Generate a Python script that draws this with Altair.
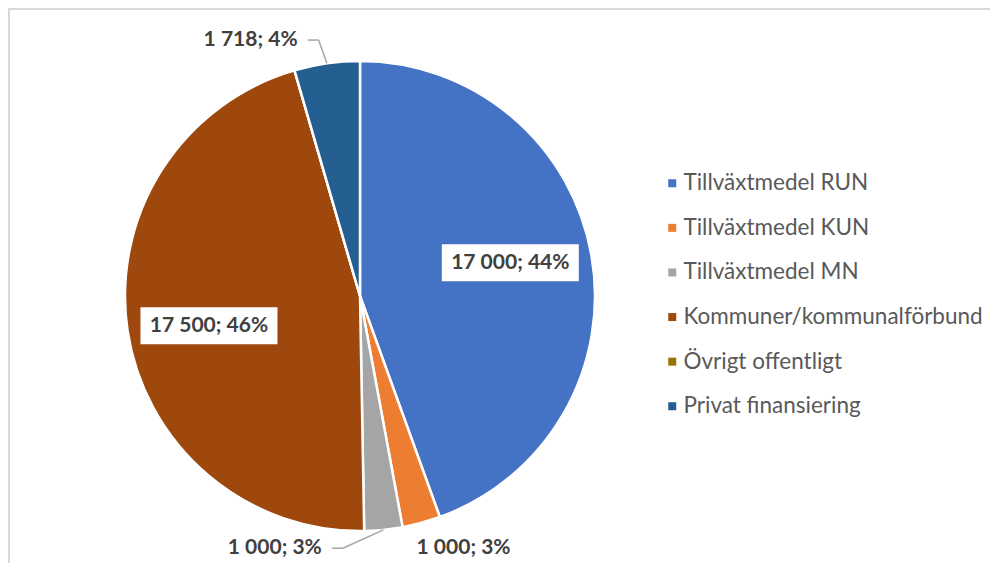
import altair as alt
import pandas as pd
import numpy as np

# ---------------- data ----------------
categories = [
    "Tillväxtmedel RUN",
    "Tillväxtmedel KUN",
    "Tillväxtmedel MN",
    "Kommuner/kommunalförbund",
    "Övrigt offentligt",
    "Privat finansiering",
]
values = [17000, 1000, 1000, 17500, 0, 1718]
colors = ["#4472C4", "#ED7D31", "#A5A5A5", "#9E480E", "#997300", "#255E91"]

# ---------------- layout ----------------
W, H = 982, 555
CX, CY, R = 352, 288, 235
FONT = "Lato"
TXT = "#404040"
LABEL_ROT = -2.5 * np.pi / 180  # inside label angular nudge

# outside-label placement: (align, dx, dy, leader)
OUTSIDE = {
    "Tillväxtmedel KUN": ("left", -11, 2, False),
    "Tillväxtmedel MN": ("right", -64, -5, True),
    "Privat finansiering": ("right", -26, 0, True),
}

total = sum(values)
df = pd.DataFrame({"cat": categories, "val": values, "idx": range(len(values))})


def fmt(v):
    return f"{v:,}".replace(",", " ") + f"; {round(100 * v / total)}%"


cum = np.cumsum(values)
mids = [(c - v / 2) / total * 2 * np.pi for c, v in zip(cum, values)]

inside_rows, out_rows, seg_rows = [], [], []
for cat, v, m in zip(categories, values, mids):
    if v == 0:
        continue
    lab = fmt(v)
    if v / total >= 0.1:
        r = 0.655 * R
        a = m + LABEL_ROT
        lx, ly = CX + r * np.sin(a), CY - r * np.cos(a)
        inside_rows.append(dict(cat=cat, label=lab, lx=lx, ly=ly,
                                bx=lx - 68.5, bx2=lx + 68.5, by=ly - 18.5, by2=ly + 18.5))
    else:
        align, dx, dy, leader = OUTSIDE[cat]
        ax, ay = CX + 1.1 * R * np.sin(m), CY - 1.1 * R * np.cos(m)
        lx, ly = ax + dx, ay + dy
        out_rows.append(dict(cat=cat, label=lab, lx=lx, ly=ly, align=align))
        if leader:
            ex, ey = CX + R * np.sin(m), CY - R * np.cos(m)
            seg_rows.append(dict(x=lx + 10, y=ly, x2=lx + 21, y2=ly))
            seg_rows.append(dict(x=lx + 21, y=ly, x2=ex, y2=ey))

inside = pd.DataFrame(inside_rows)
outside = pd.DataFrame(out_rows)
segs = pd.DataFrame(seg_rows)

# ---------------- chart ----------------
pie = alt.Chart(df).mark_arc(outerRadius=R, stroke="white", strokeWidth=2.5).encode(
    x=alt.value(CX),
    y=alt.value(CY),
    theta=alt.Theta("val:Q", stack=True),
    order=alt.Order("idx:Q"),
    color=alt.Color(
        "cat:N",
        sort=categories,
        scale=alt.Scale(domain=categories, range=colors),
        legend=alt.Legend(
            title=None, orient="none", legendX=653, legendY=164,
            direction="vertical", columns=1,
            symbolType="square", symbolSize=64, symbolStrokeWidth=0,
            labelFontSize=22.5, labelFont=FONT, labelColor="#595959",
            rowPadding=21.6, labelOffset=0, padding=0, labelLimit=400,
        ),
    ),
)

boxes = alt.Chart(inside).mark_rect(color="white").encode(
    x=alt.X("bx:Q", scale=None), x2="bx2:Q",
    y=alt.Y("by:Q", scale=None), y2="by2:Q",
)

in_text = alt.Chart(inside).mark_text(
    font=FONT, fontSize=21, fontWeight="bold", color=TXT, align="center", baseline="middle"
).encode(x=alt.X("lx:Q", scale=None), y=alt.Y("ly:Q", scale=None), text="label:N")

out_left = alt.Chart(outside[outside["align"] == "left"]).mark_text(
    font=FONT, fontSize=21, fontWeight="bold", color=TXT, align="left", baseline="middle"
).encode(x=alt.X("lx:Q", scale=None), y=alt.Y("ly:Q", scale=None), text="label:N")

out_right = alt.Chart(outside[outside["align"] == "right"]).mark_text(
    font=FONT, fontSize=21, fontWeight="bold", color=TXT, align="right", baseline="middle"
).encode(x=alt.X("lx:Q", scale=None), y=alt.Y("ly:Q", scale=None), text="label:N")

leaders = alt.Chart(segs).mark_rule(color="#A6A6A6", strokeWidth=1.5).encode(
    x=alt.X("x:Q", scale=None), x2="x2:Q",
    y=alt.Y("y:Q", scale=None), y2="y2:Q",
)

border_df = pd.DataFrame({"k": [0]})
top_border = alt.Chart(border_df).mark_rule(color="#D9D9D9", strokeWidth=2).encode(
    x=alt.value(0), x2=alt.value(W), y=alt.value(1)
)
left_border = alt.Chart(border_df).mark_rule(color="#D9D9D9", strokeWidth=2).encode(
    x=alt.value(1), y=alt.value(0), y2=alt.value(H)
)

chart = alt.layer(
    pie, boxes, in_text, out_left, out_right, leaders, top_border, left_border
).properties(
    width=W, height=H, padding=0,
    autosize=alt.AutoSizeParams(type="none"),
).configure_view(stroke=None).configure(background="white")

chart.save("out.html", embed_options={"renderer": "svg", "actions": False})
